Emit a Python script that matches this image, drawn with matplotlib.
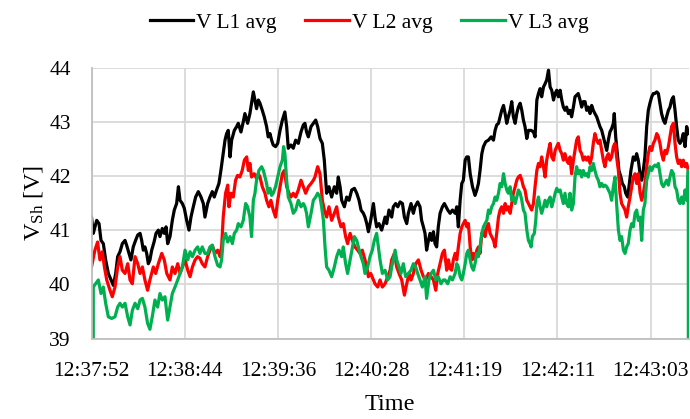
import matplotlib
matplotlib.use("Agg")
import matplotlib.pyplot as plt

plt.rcParams['font.family'] = ['Liberation Serif', 'DejaVu Serif']
plt.rcParams['mathtext.fontset'] = 'custom'
plt.rcParams['mathtext.rm'] = 'Liberation Serif'
plt.rcParams['mathtext.it'] = 'Liberation Serif:italic'

# sample index (seconds from 12:37:52, category positions)
tick_pos = [0, 52, 104, 156, 208, 260, 312]
tick_labels = ['12:37:52', '12:38:44', '12:39:36', '12:40:28', '12:41:19', '12:42:11', '12:43:03']
series_names = ['V L1 avg', 'V L2 avg', 'V L3 avg']

# ---- V L1 avg ----
l1_t = [0, 1.0, 2.9, 4.2, 5.3, 6.6, 7.9, 9.4, 10.9, 12.2, 13.5, 14.6, 15.9, 17.2, 18.7, 19.6, 20.9, 22.0, 23.3, 24.6,
        25.8, 27.1, 28.0, 28.9, 29.8, 30.8, 31.7, 32.6, 33.6, 34.9, 36.0, 37.3, 38.2, 39.5, 40.6, 41.6, 42.5, 43.8, 45.1, 46.2,
        47.5, 48.5, 49.4, 50.7, 51.8, 53.1, 54.4, 55.5, 56.8, 58.1, 59.6, 61.1, 62.4, 63.3,
        64.8, 66.1, 67.4, 68.5, 69.8, 71.1, 72.2, 73.5, 74.5, 75.4, 76.3, 77.3, 78.2, 79.7, 81.0, 81.9, 83.4, 84.7, 85.6, 87.1,
        88.4, 89.3, 90.3, 91.2, 92.1, 93.1, 94.0, 95.3, 96.4, 97.7, 98.6, 99.6, 100.5, 101.4, 102.7, 103.9, 105.2, 106.5, 107.9, 108.9,
        109.8, 111.3, 112.6, 113.9, 115.4, 116.9, 118.2, 119.1, 120.0, 121.0, 122.5, 123.8, 125.1, 126.2, 127.5, 128.8, 129.9,
        131.2, 132.5, 134.0, 135.5, 136.8, 137.7, 138.7, 139.6, 141.1, 142.4, 143.7, 145.2, 146.7, 148.0, 149.3,
        150.4, 151.7, 152.6, 153.6, 154.5, 155.8, 157.3, 158.2, 159.1, 160.4, 161.9, 162.9, 163.8, 164.7, 166.0,
        167.5, 168.4, 169.7, 170.9, 172.2, 173.5, 174.6, 175.9, 176.8, 178.3, 179.6, 180.5, 182.0, 183.3, 184.2,
        185.2, 186.1, 187.0, 188.0, 188.9, 189.8, 190.8, 191.7, 192.6, 193.5, 194.5, 195.8, 196.9,
        198.8, 200.1, 201.4, 202.9, 203.8, 204.7, 205.7, 206.6, 207.5, 208.5, 209.4, 210.3, 211.3, 212.6, 214.0,
        215.0, 215.9, 216.8, 217.8, 218.7, 220.0, 221.5, 223.0, 224.3, 225.2, 226.1, 227.1, 228.0, 228.9, 229.9,
        230.8, 231.7, 232.6, 233.6, 234.5, 235.4, 236.4, 237.3, 238.2, 239.2, 240.1, 241.0, 241.9, 242.9, 243.8,
        245.3, 246.6, 247.5, 248.5, 249.4, 250.3, 251.2, 252.2, 253.1, 254.0, 255.0, 255.9, 256.8, 257.8, 258.7,
        259.6, 260.5, 261.5, 262.4, 263.3,
        264.2, 265.1, 266.1, 267.0, 267.9, 268.9, 269.8, 270.7, 271.6, 272.6, 273.5, 274.4, 275.4, 276.3, 277.2,
        278.2, 279.1, 280.0, 280.9, 281.9, 282.8, 283.7, 284.7, 285.6, 286.5, 287.5, 288.4, 289.3, 290.2, 291.2,
        291.7, 292.5, 293.6, 294.3, 295.4, 296.2, 297.3, 298.1, 299.2, 299.9, 301.0, 302.3, 303.3, 304.2, 305.1,
        306.1, 307.0, 307.9, 308.8, 309.8, 310.7, 311.6, 312.6, 313.5, 314.4, 315.4, 316.3, 317.2, 318.1, 319.1,
        320.0, 320.9, 321.9, 322.8, 323.7, 324.7, 325.6, 326.5, 327.4, 328.4, 329.3, 330.2, 331.2, 332.1, 333.0]
l1_v = [41.24, 40.94, 41.18, 41.12, 40.81, 40.75, 40.45, 40.20, 40.08, 39.98, 40.20, 40.51, 40.60, 40.75, 40.81, 40.72, 40.57, 40.45, 40.69, 40.81,
        40.91, 40.94, 40.81, 40.63, 40.69, 40.57, 40.38, 40.45, 40.63, 40.78, 40.94, 41.00, 40.88, 41.03, 40.94, 41.06, 40.75, 40.88, 41.18, 41.37,
        41.49, 41.80, 41.55, 41.49, 41.40, 41.18, 41.00, 41.24, 41.43, 41.61, 41.71, 41.61, 41.49, 41.24,
        41.49, 41.61, 41.71, 41.61, 41.74, 41.86, 42.10, 42.41, 42.66, 42.78, 42.84, 42.35, 42.66, 42.84, 42.91, 42.97, 42.81, 43.00, 43.15, 42.97,
        43.15, 43.34, 43.55, 43.40, 43.24, 43.40, 43.34, 43.21, 43.09, 42.91, 42.72, 42.78, 42.66, 42.57, 42.54, 42.60, 42.84, 43.03, 43.18, 42.91,
        42.51, 42.57, 42.51, 42.66, 42.60, 42.81, 42.94, 42.97, 42.81, 42.72, 42.91, 42.97, 43.03, 42.91, 42.69, 42.60, 42.29,
        41.68, 41.80, 41.61, 41.80, 41.68, 41.98, 41.80, 41.55, 41.43, 41.61, 41.55, 41.74, 41.77, 41.68, 41.55,
        41.37, 41.31, 41.24, 41.12, 40.97, 41.18, 41.49, 41.24, 41.06, 41.12, 41.00, 41.12, 41.24, 41.12, 41.37,
        41.24, 41.43, 41.49, 41.43, 41.52, 41.49, 41.24, 41.12, 41.31, 41.49, 41.31, 41.43, 41.52, 41.43, 41.18,
        41.06, 40.94, 40.63, 40.81, 40.94, 40.81, 40.97, 40.75, 40.69, 41.06, 41.31, 41.43, 41.49,
        41.37, 41.31, 41.37, 41.31, 41.43, 41.06, 41.55, 41.86, 41.92, 42.29, 42.35, 42.35, 42.04, 41.80, 41.64,
        41.74, 41.86, 42.10, 42.41, 42.54, 42.63, 42.66, 42.72, 42.66, 42.84, 42.94, 42.97, 43.09, 43.21, 43.30,
        43.15, 42.97, 43.09, 43.21, 43.37, 43.09, 42.97, 43.15, 43.27, 43.34, 43.21, 43.03, 42.91, 42.69, 42.84,
        42.84, 42.81, 42.72, 43.40, 43.52, 43.61, 43.46, 43.64, 43.70, 43.77, 43.95, 43.64, 43.58, 43.40, 43.52,
        43.58, 43.46, 43.58, 43.40, 43.27,
        43.21, 43.27, 43.15, 43.21, 43.09, 43.27, 43.46, 43.49, 43.52, 43.40, 43.27, 43.37, 43.37, 43.21, 43.27,
        43.15, 43.30, 43.21, 43.15, 43.09, 43.00, 42.91, 42.84, 42.72, 42.60, 42.47, 42.66, 42.81, 42.87, 42.97,
        43.15, 42.72, 42.35, 42.10, 41.98, 41.86, 41.80, 41.68, 41.61, 41.80, 42.10, 42.35, 42.29, 42.41, 42.29,
        42.04, 41.92, 42.10, 42.35, 42.91, 43.21, 43.34, 43.46, 43.52, 43.52, 43.55, 43.52, 43.34, 43.15, 43.03,
        42.97, 43.09, 43.21, 43.27, 43.40, 43.46, 43.21, 42.91, 42.66, 42.60, 42.66, 42.78, 42.54, 42.91, 42.78]

# ---- V L2 avg ----
l2_t = [0, 1.9, 3.4, 4.7, 6.0, 7.2, 8.5, 10.3, 11.6, 13.1, 14.6, 15.9, 17.2, 18.7, 20.2, 21.5, 22.8, 24.3, 25.8, 27.1,
        28.4, 29.8, 31.3, 32.6, 34.5, 35.8, 37.3, 39.2, 40.6, 42.0, 43.8, 45.1, 46.6, 48.1, 49.4, 50.7, 52.2, 53.7, 55.0, 56.3,
        57.8, 59.2, 60.5, 61.8, 63.3,
        64.8, 66.1, 67.4, 68.9, 70.4, 71.7, 72.6, 73.5, 74.8, 76.0, 76.7, 77.8, 79.1, 80.4, 81.5, 82.8, 84.1, 85.3, 86.6, 87.5,
        88.4, 89.3, 90.8, 92.1, 93.1, 94.0, 95.3, 96.8, 97.7, 99.0, 100.1, 101.4, 102.7, 103.9, 105.2, 106.5, 107.6, 108.9, 110.2, 111.3,
        112.6, 113.9, 115.4, 116.9, 118.2, 119.5, 121.0, 122.5, 123.8, 124.7, 126.2, 127.5, 128.8, 129.9,
        131.2, 132.5, 134.0, 135.5, 136.8, 137.7, 139.2, 140.5, 141.8, 142.9, 144.3, 145.6, 147.0, 148.5, 149.8,
        151.1, 152.6, 153.6, 154.5, 155.8, 157.3, 158.2, 159.7, 161.0, 162.3, 163.8, 165.3, 166.6, 167.5, 169.0,
        170.3, 171.6, 173.1, 174.6, 175.9, 177.2, 178.3, 179.6, 180.9, 182.4, 183.9, 185.2, 186.5, 188.0, 189.5,
        190.8, 192.1, 193.2, 194.5, 195.8, 196.9,
        198.2, 199.2, 200.1, 201.0, 201.9, 202.9, 203.8, 204.7, 205.7, 206.6, 207.5, 208.5, 209.4, 210.3, 211.3,
        212.2, 213.1, 214.0, 215.0, 215.9, 216.8, 217.8, 218.7, 219.6, 220.6, 221.5, 222.4, 223.3, 224.3, 225.2,
        226.1, 227.1, 228.0, 228.9, 229.9, 230.8, 231.7, 232.6, 233.6, 234.5, 235.4, 236.4, 237.3, 238.2, 239.2,
        240.1, 241.0, 241.9, 242.9, 243.8, 244.7, 245.6, 246.6, 247.5, 248.5, 249.4, 250.3, 251.2, 252.2, 253.1,
        254.0, 255.0, 255.9, 256.8, 257.8, 258.7, 259.6, 260.5, 261.5, 262.4, 263.3,
        264.2, 265.1, 266.1, 267.0, 267.9, 268.9, 269.8, 270.7, 271.6, 272.6, 273.5, 274.4, 275.4, 276.3, 277.2,
        278.2, 279.1, 280.0, 280.9, 281.9, 282.8, 283.7, 284.7, 285.6, 286.5, 287.5, 288.4, 289.3, 290.2, 291.2,
        292.1, 293.0, 294.0, 294.9, 295.8, 296.8, 297.7, 298.6, 299.5, 300.5, 301.4, 302.3, 303.3, 304.2, 305.1,
        306.1, 307.0, 307.9, 308.8, 309.8, 310.7, 311.6, 312.6, 313.5, 314.4, 315.4, 316.3, 317.2, 318.1, 319.1,
        320.0, 320.9, 321.9, 322.8, 323.7, 324.7, 325.6, 326.5, 327.4, 328.4, 329.3, 330.2, 331.2, 332.1, 333.0]
l2_v = [40.32, 40.63, 40.78, 40.45, 40.60, 40.32, 40.08, 39.89, 39.77, 39.95, 40.32, 40.51, 40.26, 40.20, 40.38, 40.08, 40.01, 40.51, 40.38, 40.20,
        40.32, 40.08, 39.89, 40.08, 40.32, 40.20, 40.38, 40.57, 40.45, 40.20, 40.08, 40.32, 40.20, 40.38, 40.20, 40.32, 40.45, 40.26, 40.14, 40.32,
        40.45, 40.51, 40.48, 40.38, 40.32,
        40.51, 40.63, 40.72, 40.57, 40.63, 40.51, 40.69, 41.24, 41.68, 41.83, 41.43, 41.68, 41.61, 41.92, 42.01, 41.98, 42.10, 42.29, 42.35, 42.10,
        42.23, 41.98, 42.04, 41.95, 42.04, 41.98, 41.80, 41.68, 41.55, 41.43, 41.55, 41.37, 41.24, 41.55, 41.80, 42.04, 42.10, 41.80, 41.68, 41.61,
        41.68, 41.61, 41.74, 41.92, 41.80, 41.68, 41.80, 41.86, 41.92, 41.98, 42.17, 42.04, 41.55, 41.37,
        41.24, 41.43, 41.18, 41.31, 41.43, 41.24, 41.06, 41.12, 40.88, 40.75, 40.94, 40.81, 40.69, 40.63, 40.57,
        40.63, 40.45, 40.32, 40.14, 40.20, 40.08, 40.01, 39.95, 40.08, 39.95, 40.01, 40.14, 40.26, 40.45, 40.57,
        40.32, 40.20, 40.08, 39.80, 40.01, 40.20, 40.08, 40.20, 40.38, 40.45, 40.26, 40.14, 40.08, 40.20, 40.14,
        40.08, 39.89, 40.20, 40.38, 40.57, 40.63,
        40.26, 40.45, 40.29, 40.26, 40.45, 40.57, 40.45, 40.69, 40.94, 41.06, 41.12, 41.18, 41.06, 41.12, 40.69,
        40.45, 40.57, 40.45, 40.63, 40.69, 40.57, 40.94, 41.00, 40.88, 41.06, 41.12, 40.94, 40.88, 40.81, 40.69,
        40.94, 41.24, 41.37, 41.43, 41.31, 41.49, 41.37, 41.43, 41.31, 41.49, 41.68, 41.80, 41.92, 41.98, 42.01,
        41.92, 41.80, 41.74, 41.55, 41.49, 41.43, 41.37, 41.49, 41.80, 42.10, 42.23, 42.17, 42.35, 42.17, 41.98,
        42.29, 42.47, 42.60, 42.35, 42.29, 42.47, 42.54, 42.60, 42.47, 42.41, 42.29,
        42.41, 42.29, 42.23, 42.35, 42.04, 42.29, 42.47, 42.66, 42.72, 42.47, 42.41, 42.29, 42.35, 42.29, 42.35,
        42.23, 42.35, 42.60, 42.78, 42.66, 42.60, 42.66, 42.47, 42.29, 42.17, 42.35, 42.41, 42.29, 42.35, 42.54,
        42.60, 42.35, 42.10, 41.68, 41.49, 41.43, 41.37, 41.24, 41.43, 41.61, 41.80, 41.98, 42.04, 41.86, 42.04,
        41.68, 41.55, 41.68, 41.86, 42.17, 42.41, 42.54, 42.47, 42.60, 42.66, 42.78, 42.72, 42.60, 42.41, 42.29,
        42.47, 42.41, 42.54, 42.72, 42.91, 42.97, 42.60, 42.35, 42.23, 42.29, 42.17, 42.29, 42.17, 42.23, 42.10]

# ---- V L3 avg ---- (first and last readings are zero)
l3_t = [0, 1.0, 2.3, 3.8, 5.3, 6.6, 7.9, 9.4, 11.3, 13.1, 14.6, 15.9, 17.2, 18.7, 20.2, 21.5, 22.8, 24.3, 25.8, 27.1,
        28.4, 29.8, 31.3, 32.6, 33.9, 35.4, 36.9, 38.2, 39.5, 41.0, 42.5, 43.8, 45.1, 46.6, 48.1, 49.4, 50.7, 52.2, 53.7, 55.0,
        56.3, 57.8, 59.2, 60.5, 61.8, 63.3,
        64.8, 66.1, 67.4, 68.9, 70.4, 71.7, 72.6, 73.5, 74.8, 76.0, 77.3, 78.6, 79.7, 81.0, 81.9, 83.4, 84.7, 86.0, 87.1, 88.4,
        89.3, 90.3, 91.2, 92.1, 93.4, 94.9, 95.9, 96.8, 97.7, 98.6, 99.6, 100.5, 101.4, 102.7, 103.9, 105.2, 106.5, 107.2, 107.9, 108.9,
        109.8, 111.3, 112.6, 113.9, 115.4, 116.9, 118.2, 119.1, 120.0, 121.0, 122.5, 123.8, 125.1, 126.2, 127.5, 128.4, 129.4, 130.3, 131.2,
        132.5, 134.0, 135.5, 136.8, 138.1, 139.6, 140.5, 141.8, 142.9, 144.3, 145.6, 146.7, 148.0, 148.9, 150.4,
        151.7, 152.6, 154.1, 155.4, 156.7, 157.8, 159.1, 160.1, 161.0, 162.3, 163.8, 165.3, 166.6, 167.5, 168.4,
        169.4, 170.3, 171.6, 172.7, 174.0, 175.3, 176.8, 178.3, 179.6, 180.9, 182.0, 183.3, 184.6, 186.1, 187.0,
        188.3, 189.5, 190.8, 192.1, 193.5, 195.0, 196.3,
        197.3, 198.8, 200.1, 201.4, 202.9, 203.8, 204.7, 205.7, 206.6, 207.5, 208.5, 209.4, 210.3, 211.3, 212.2,
        213.1, 214.0, 215.0, 215.9, 216.8, 217.8, 218.7, 219.6, 220.6, 221.5, 222.4, 223.3, 224.3, 225.2, 226.1,
        227.1, 228.0, 228.9, 229.9, 230.8, 231.7, 232.6, 233.6, 234.5, 235.4, 236.4, 237.3, 238.2, 239.2, 240.1,
        241.0, 241.9, 242.9, 243.8, 244.7, 245.3, 246.0, 247.1, 247.9, 248.5, 249.4, 250.3, 251.2, 252.2, 253.1,
        254.0, 255.0, 255.9, 256.8, 257.8, 258.7, 259.6, 260.5, 261.5, 262.4, 263.3,
        264.2, 265.1, 266.1, 267.0, 267.9, 268.9, 269.8, 270.7, 271.6, 272.6, 273.5, 274.4, 275.4, 276.3, 277.2,
        278.2, 279.1, 280.0, 280.9, 281.9, 282.8, 283.7, 284.7, 285.6, 286.5, 287.5, 288.4, 289.3, 290.2, 291.2,
        292.1, 293.0, 294.0, 294.9, 295.8, 296.8, 297.7, 298.6, 299.5, 300.5, 301.4, 302.3, 303.3, 304.2, 305.1,
        306.1, 307.0, 307.9, 308.8, 309.8, 310.7, 311.6, 312.6, 313.5, 314.4, 315.4, 316.3, 317.2, 318.1, 319.1,
        320.0, 320.9, 321.9, 322.8, 323.7, 324.7, 325.6, 326.5, 327.4, 328.4, 329.3, 330.2, 331.2, 332.1, 333.0,
        333.4]
l3_v = [0.0, 39.95, 40.01, 40.08, 39.83, 39.95, 39.65, 39.40, 39.37, 39.40, 39.58, 39.65, 39.58, 39.65, 39.40, 39.25, 39.52, 39.65, 39.55, 39.71,
        39.74, 39.58, 39.28, 39.17, 39.40, 39.71, 39.58, 39.83, 39.71, 39.77, 39.34, 39.58, 39.83, 39.95, 40.08, 40.20, 40.32, 40.63, 40.45, 40.60,
        40.51, 40.63, 40.69, 40.57, 40.69, 40.57,
        40.57, 40.69, 40.72, 40.51, 40.35, 40.32, 40.45, 40.81, 40.94, 40.78, 40.88, 40.75, 40.94, 41.00, 41.12, 41.06, 41.18, 41.49, 41.43, 41.24,
        40.88, 41.55, 41.68, 41.92, 42.10, 42.17, 42.10, 41.98, 41.86, 41.68, 41.77, 41.64, 41.68, 41.80, 41.98, 42.17, 42.29, 42.54, 42.41, 41.92,
        41.61, 41.49, 41.31, 41.37, 41.55, 41.43, 41.49, 41.43, 41.31, 41.06, 41.31, 41.55, 41.61, 41.68, 41.61, 41.43, 41.18, 40.69, 40.32,
        40.26, 40.14, 40.32, 40.51, 40.63, 40.51, 40.69, 40.38, 40.20, 40.45, 40.69, 40.88, 40.81, 40.69, 40.51,
        40.38, 40.20, 40.32, 40.51, 40.63, 40.81, 40.94, 40.69, 40.45, 40.20, 40.26, 40.08, 40.14, 40.32, 40.45,
        40.63, 40.45, 40.32, 40.20, 40.38, 40.14, 40.20, 40.26, 40.38, 40.32, 40.20, 40.08, 39.95, 40.14, 39.74,
        40.08, 40.20, 40.26, 40.08, 40.14, 40.01, 40.08,
        40.08, 40.01, 40.14, 40.08, 40.20, 40.38, 40.32, 40.14, 40.08, 40.20, 40.38, 40.57, 40.63, 40.45, 40.32,
        40.26, 40.38, 40.57, 40.51, 40.69, 40.94, 41.06, 41.12, 41.18, 41.37, 41.31, 41.43, 41.49, 41.61, 41.55,
        41.68, 41.86, 41.80, 42.04, 41.86, 41.74, 41.68, 41.80, 41.55, 41.61, 41.49, 41.61, 41.74, 41.68, 41.55,
        41.37, 41.31, 41.00, 40.81, 40.75, 40.69, 40.88, 40.94, 41.18, 41.49, 41.61, 41.43, 41.31, 41.43, 41.55,
        41.43, 41.55, 41.61, 41.43, 41.55, 41.68, 41.77, 41.71, 41.74, 41.61, 41.49,
        41.68, 41.49, 41.43, 41.68, 41.37, 41.49, 41.98, 42.17, 42.04, 42.10, 41.98, 42.10, 42.01, 42.04, 41.98,
        42.17, 42.10, 42.23, 42.10, 41.98, 41.92, 41.80, 41.86, 41.80, 41.83, 41.80, 41.74, 41.68, 41.55, 41.80,
        41.98, 41.49, 41.00, 40.81, 40.88, 40.63, 40.57, 40.69, 40.75, 41.00, 41.12, 41.06, 41.31, 41.37, 41.18,
        41.24, 40.81, 41.37, 41.49, 41.92, 42.04, 42.17, 42.10, 42.17, 42.20, 42.17, 42.23, 42.04, 41.86, 41.80,
        41.86, 41.92, 41.83, 41.98, 42.10, 42.04, 41.80, 41.74, 41.55, 41.49, 41.61, 41.49, 41.74, 41.55, 42.10,
        0.0]

assert len(l1_t) == len(l1_v), (len(l1_t), len(l1_v))
assert len(l2_t) == len(l2_v), (len(l2_t), len(l2_v))
assert len(l3_t) == len(l3_v), (len(l3_t), len(l3_v))

W, H = 690, 419
fig = plt.figure(figsize=(W / 100, H / 100), dpi=100)
ax = fig.add_axes([91.5 / W, 1 - 338.5 / H, (689 - 91.5) / W, (338.5 - 67.5) / H])

lw = 2.3
ax.plot(l1_t, l1_v, color='#000000', lw=lw, label=series_names[0], solid_joinstyle='round')
ax.plot(l2_t, l2_v, color='#FF0000', lw=lw, label=series_names[1], solid_joinstyle='round')
ax.plot(l3_t, l3_v, color='#00B050', lw=lw, label=series_names[2], solid_joinstyle='round')

ax.set_xlim(0, 333.4)
ax.set_ylim(39, 44)
ax.set_yticks([39, 40, 41, 42, 43, 44])
ax.set_xticks(tick_pos)
ax.set_xticklabels(tick_labels)
ax.grid(True, color='#d9d9d9', lw=1.3)
ax.set_axisbelow(True)
for s in ['top', 'right']:
    ax.spines[s].set_visible(False)
for s in ['left', 'bottom']:
    ax.spines[s].set_color('#bfbfbf')
    ax.spines[s].set_linewidth(1.3)
ax.tick_params(axis='both', length=0, labelsize=15.5, colors='#000000')
ax.tick_params(axis='x', pad=17)
ax.tick_params(axis='y', pad=15)

ax.set_xlabel('Time', fontsize=17.5, labelpad=9)
ax.set_ylabel(r'V$_{\mathrm{Sh}}$ [V]', fontsize=17.5, labelpad=3)

fig.legend(loc='center', bbox_to_anchor=(369 / W, 1 - 23 / H), ncol=3, frameon=False,
           fontsize=15.5, handlelength=2.0, handletextpad=0.15, columnspacing=1.35)

fig.savefig('out.png', dpi=100)
